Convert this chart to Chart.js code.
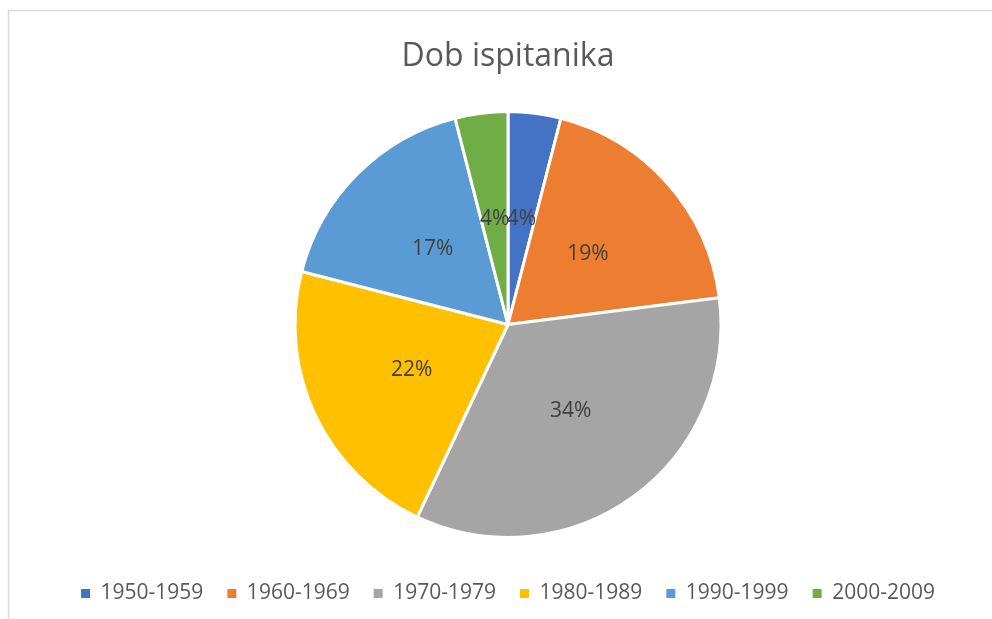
<!DOCTYPE html>
<html>
<head>
<meta charset="utf-8">
<script src="https://cdn.jsdelivr.net/npm/chart.js@4/dist/chart.umd.min.js"></script>
<style>
html,body{margin:0;padding:0;background:#fff;overflow:hidden;}
#wrap{position:relative;width:992px;height:628px;}
</style>
</head>
<body>
<div id="wrap"><canvas id="c" width="992" height="628"></canvas></div>
<script>
const chartTitle = 'Dob ispitanika';
const categories = ['1950-1959', '1960-1969', '1970-1979', '1980-1989', '1990-1999', '2000-2009'];
const percentValues = [4, 19, 34, 22, 17, 4];
const sliceColors = ['#4472C4', '#ED7D31', '#A5A5A5', '#FFC000', '#5B9BD5', '#70AD47'];

const FONT = "'Open Sans', 'DejaVu Sans', sans-serif";

const framePlugin = {
  id: 'frame',
  beforeDraw(chart) {
    const ctx = chart.ctx;
    ctx.save();
    ctx.fillStyle = '#ffffff';
    ctx.fillRect(0, 0, chart.width, chart.height);
    ctx.strokeStyle = '#d9d9d9';
    ctx.lineWidth = 1.5;
    ctx.strokeRect(8.5, 10.5, 1200, 1200);
    ctx.restore();
  }
};

const sliceLabels = {
  id: 'sliceLabels',
  afterDatasetsDraw(chart) {
    const ctx = chart.ctx;
    const meta = chart.getDatasetMeta(0);
    const data = chart.data.datasets[0].data;
    const total = data.reduce((a, b) => a + b, 0);
    ctx.save();
    ctx.font = "21px " + FONT;
    ctx.fillStyle = '#404040';
    ctx.textAlign = 'center';
    ctx.textBaseline = 'middle';
    meta.data.forEach((arc, i) => {
      const p = arc.getProps(['x', 'y', 'startAngle', 'endAngle', 'outerRadius'], true);
      const mid = (p.startAngle + p.endAngle) / 2;
      const r = p.outerRadius * 0.5;
      const x = p.x + Math.cos(mid) * r;
      const y = p.y + Math.sin(mid) * r;
      ctx.fillText(Math.round(data[i] / total * 100) + '%', x, y);
    });
    ctx.restore();
  }
};

new Chart(document.getElementById('c'), {
  type: 'pie',
  data: {
    labels: categories,
    datasets: [{
      data: percentValues,
      backgroundColor: sliceColors,
      borderColor: '#ffffff',
      borderWidth: 3
    }]
  },
  options: {
    responsive: false,
    animation: false,
    radius: 213,
    layout: { padding: { left: 24, right: 0, top: 0, bottom: 14 } },
    plugins: {
      title: {
        display: true,
        text: chartTitle,
        color: '#595959',
        font: { family: FONT, size: 32, weight: 'normal', lineHeight: 1.2 },
        padding: { top: 38, bottom: 13.6 }
      },
      legend: {
        display: true,
        position: 'bottom',
        labels: {
          color: '#595959',
          font: { family: FONT, size: 21 },
          boxWidth: 9,
          boxHeight: 9,
          padding: 24,
          generateLabels(chart) {
            const items = Chart.controllers.pie.overrides.plugins.legend.labels.generateLabels(chart);
            items.forEach(it => { it.lineWidth = 0; it.strokeStyle = 'rgba(0,0,0,0)'; });
            return items;
          }
        }
      },
      tooltip: { enabled: false }
    }
  },
  plugins: [framePlugin, sliceLabels]
});
</script>
</body>
</html>
